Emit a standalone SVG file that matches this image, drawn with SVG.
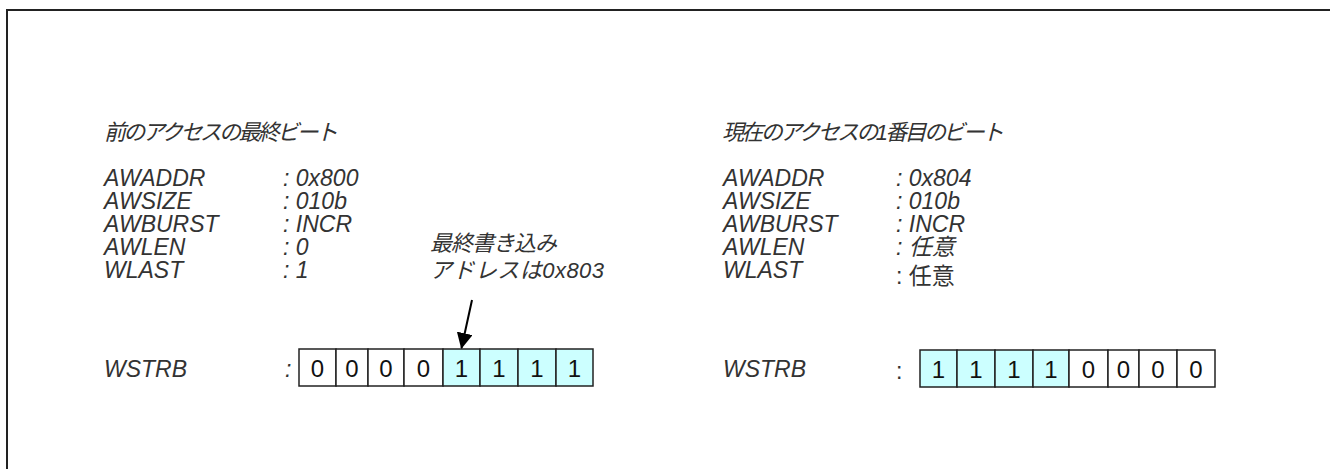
<svg xmlns="http://www.w3.org/2000/svg" width="1330" height="469" viewBox="0 0 1330 469">
<style>
.t{font-family:"Liberation Sans","Noto Sans CJK JP",sans-serif;font-size:23px;font-style:italic;fill:#333}
.j{font-family:"Liberation Sans","Noto Sans CJK JP",sans-serif;font-size:22px;font-style:italic;fill:#333}
.u{font-style:normal}
.b{stroke:#222;stroke-width:1.5}
.on{fill:#ccffff}
.off{fill:#fff}
.d{font-family:"Liberation Sans",sans-serif;font-size:24px;fill:#111;text-anchor:middle}
</style>
<defs>
<marker id="ah" markerWidth="16" markerHeight="16" refX="15" refY="8" orient="auto" markerUnits="userSpaceOnUse" viewBox="0 0 16 16">
<path d="M0,0 L16,8 L0,16 z" fill="#000"/>
</marker>
</defs>
<rect x="7" y="10" width="1340" height="480" fill="#fff" stroke="#222" stroke-width="2"/>
<g id="prev">
<text class="j" x="104" y="140" textLength="234" lengthAdjust="spacing">前のアクセスの最終ビート</text>
<text class="t" x="104" y="186">AWADDR</text><text class="t" x="283" y="186">: 0x800</text>
<text class="t" x="104" y="209">AWSIZE</text><text class="t" x="283" y="209">: 010b</text>
<text class="t" x="104" y="232">AWBURST</text><text class="t" x="283" y="232">: INCR</text>
<text class="t" x="104" y="255">AWLEN</text><text class="t" x="283" y="255">: 0</text>
<text class="t" x="104" y="278">WLAST</text><text class="t" x="283" y="278">: 1</text>
<text class="t" x="104" y="377">WSTRB</text><text class="t" x="285" y="377">:</text>
</g>
<g id="note">
<text class="j" x="430" y="251" textLength="127" lengthAdjust="spacing">最終書き込み</text>
<text class="j" x="430" y="278" textLength="174" lengthAdjust="spacing">アドレスは0x803</text>
</g>
<g id="prev-wstrb">
<rect class="b off" x="299" y="349" width="37" height="37"/><text class="d" x="317.5" y="377">0</text>
<rect class="b off" x="336" y="349" width="32" height="37"/><text class="d" x="352" y="377">0</text>
<rect class="b off" x="368" y="349" width="36" height="37"/><text class="d" x="386" y="377">0</text>
<rect class="b off" x="404" y="349" width="39" height="37"/><text class="d" x="423.5" y="377">0</text>
<rect class="b on" x="443" y="349" width="37" height="37"/><text class="d" x="461.5" y="377">1</text>
<rect class="b on" x="480" y="349" width="38" height="37"/><text class="d" x="499" y="377">1</text>
<rect class="b on" x="518" y="349" width="38" height="37"/><text class="d" x="537" y="377">1</text>
<rect class="b on" x="556" y="349" width="37" height="37"/><text class="d" x="574.5" y="377">1</text>
</g>
<g id="cur">
<text class="j" x="722" y="140" textLength="282" lengthAdjust="spacing">現在のアクセスの1番目のビート</text>
<text class="t" x="723" y="186">AWADDR</text><text class="t" x="896" y="186">: 0x804</text>
<text class="t" x="723" y="209">AWSIZE</text><text class="t" x="896" y="209">: 010b</text>
<text class="t" x="723" y="232">AWBURST</text><text class="t" x="896" y="232">: INCR</text>
<text class="t" x="723" y="255">AWLEN</text><text class="t" x="896" y="255">: 任意</text>
<text class="t" x="723" y="278">WLAST</text><text class="t u" x="896" y="284">: 任意</text>
<text class="t" x="723" y="377">WSTRB</text><text class="t u" x="896" y="379">:</text>
</g>
<g id="cur-wstrb">
<rect class="b on" x="920" y="350" width="37" height="37"/><text class="d" x="938.5" y="378">1</text>
<rect class="b on" x="957" y="350" width="38" height="37"/><text class="d" x="976" y="378">1</text>
<rect class="b on" x="995" y="350" width="38" height="37"/><text class="d" x="1014" y="378">1</text>
<rect class="b on" x="1033" y="350" width="36" height="37"/><text class="d" x="1051" y="378">1</text>
<rect class="b off" x="1069" y="350" width="39" height="37"/><text class="d" x="1088.5" y="378">0</text>
<rect class="b off" x="1108" y="350" width="31" height="37"/><text class="d" x="1123.5" y="378">0</text>
<rect class="b off" x="1139" y="350" width="38" height="37"/><text class="d" x="1158" y="378">0</text>
<rect class="b off" x="1177" y="350" width="38" height="37"/><text class="d" x="1196" y="378">0</text>
</g>
<g id="connectors">
<line x1="472" y1="300" x2="461.5" y2="348" stroke="#000" stroke-width="2" marker-end="url(#ah)"/>
</g>
</svg>
